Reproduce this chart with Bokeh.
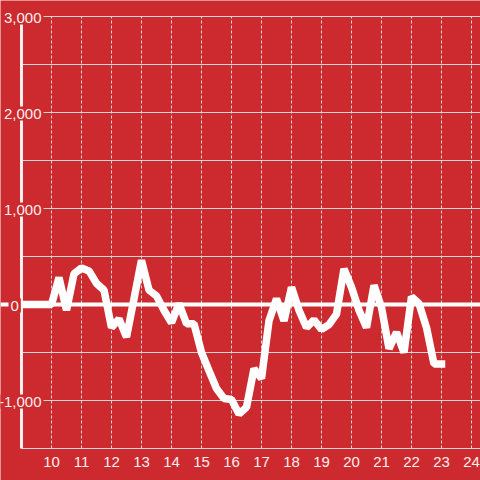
from bokeh.plotting import figure
from bokeh.models import Range1d, ColumnDataSource
from bokeh.embed import file_html
from bokeh.resources import INLINE
from bokeh.core.properties import value

# ---- data ----
times = [9.0, 9.25, 9.5, 9.75, 10.0, 10.25, 10.5, 10.75, 11.0, 11.25, 11.5, 11.75,
         12.0, 12.25, 12.5, 12.75, 13.0, 13.25, 13.5, 13.75, 14.0, 14.25, 14.5, 14.75,
         15.0, 15.25, 15.5, 15.75, 16.0, 16.25, 16.5, 16.75, 17.0, 17.25, 17.5, 17.75,
         18.0, 18.25, 18.5, 18.75, 19.0, 19.25, 19.5, 19.75, 20.0, 20.25, 20.5, 20.75,
         21.0, 21.25, 21.5, 21.75, 22.0, 22.25, 22.5, 22.75, 23.0]
net = [0, 0, 0, 0, 0, 280, -60, 320, 380, 350, 220, 150,
       -240, -150, -340, 60, 460, 150, 90, -60, -190, 10, -200, -200,
       -500, -690, -875, -980, -990, -1140, -1070, -670, -770, -170, 60, -170,
       180, -60, -240, -160, -260, -210, -100, 370, 180, -60, -240, 200,
       -30, -460, -290, -500, 80, 10, -240, -620, -620]

y_grid = [-1500, -1000, -500, 500, 1000, 1500, 2000, 2500, 3000]
y_label_values = [-1000, 1000, 2000, 3000]
y_label_text = ["-1,000", "1,000", "2,000", "3,000"]
zero_label = ["0"]
x_ticks = [10, 11, 12, 13, 14, 15, 16, 17, 18, 19, 20, 21, 22, 23, 24]
x_tick_labels = [str(t) for t in x_ticks]

# ---- style / layout ----
BG = "#cc2a2f"
LABEL = "#fbeeee"
GRID = "#d9d6d6"
W = H = 480
OFF = 0          # observed page offset
PX0, X0, PXS = 21, 9, 30     # page px of x=9, px per hour
PY0, PYS = 304, 0.096        # page px of y=0, px per unit
Y_MIN, Y_MAX = -1500, 3000
BASE_SHIFT = 1               # text baseline below its tick line (px)


def x_at(px):
    return X0 + (px - PX0) / PXS


def y_at(py):
    return (PY0 - py) / PYS


def py_of(v):
    return PY0 - v * PYS


x_left, x_right = x_at(OFF), x_at(OFF + W)

p = figure(width=W, height=H,
           x_range=Range1d(x_left, x_right),
           y_range=Range1d(y_at(OFF + H), y_at(OFF)),
           output_backend="svg", toolbar_location=None,
           x_axis_type=None, y_axis_type=None, min_border=0,
           background_fill_color=BG, border_fill_color=BG,
           outline_line_color=None)
p.grid.visible = False

# horizontal grid
p.segment(x0=[X0] * len(y_grid), y0=y_grid, x1=[x_right] * len(y_grid), y1=y_grid,
          line_color=GRID, line_width=1)
# vertical dashed grid
p.segment(x0=x_ticks, y0=[Y_MIN] * len(x_ticks), x1=x_ticks, y1=[Y_MAX] * len(x_ticks),
          line_color=GRID, line_width=1, line_dash="3 2")
# zero line
p.segment(x0=[x_left], y0=[0], x1=[x_right], y1=[0], line_color="white", line_width=4)
# left axis line
p.segment(x0=[X0], y0=[Y_MIN], x1=[X0], y1=[Y_MAX], line_color="#f4f0f0", line_width=3)

# data line
src = ColumnDataSource(dict(t=times, v=net))
p.line("t", "v", source=src, line_color="white", line_width=7.5, line_cap="square")

font = value("Liberation Sans")
# y labels
p.text(x=[x_at(43)] * len(y_label_values),
       y=[y_at(py_of(v) + BASE_SHIFT) for v in y_label_values],
       text=y_label_text, text_align="right", text_baseline="alphabetic",
       text_font=font, text_font_size="15px", text_color=LABEL,
       background_fill_color=BG, padding=2)
p.text(x=[x_at(8)], y=[y_at(py_of(0) + BASE_SHIFT)], text=zero_label,
       text_align="left", text_baseline="alphabetic",
       text_font=font, text_font_size="15px", text_color=LABEL,
       background_fill_color=BG, padding=2)
# x labels
p.text(x=x_ticks, y=[y_at(461)] * len(x_ticks), text=x_tick_labels,
       text_align="center", text_baseline="alphabetic",
       text_font=font, text_font_size="15px", text_color=LABEL)

open("out.html", "w").write(file_html(p, INLINE))
